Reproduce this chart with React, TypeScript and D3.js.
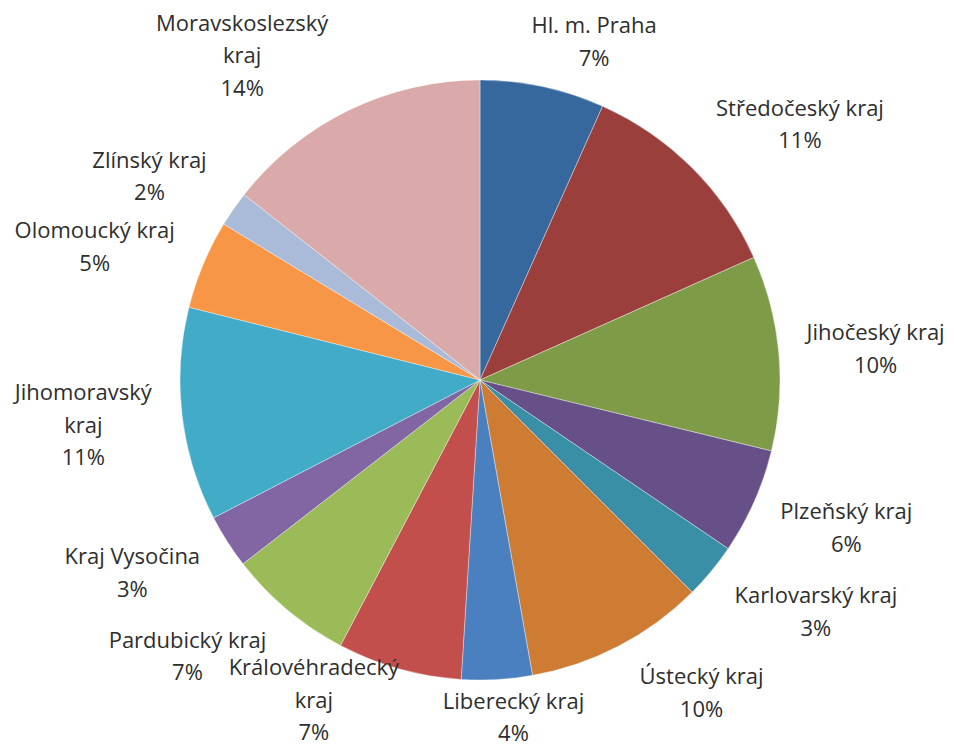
import React, { useEffect, useRef } from 'react';
import * as d3 from 'd3';

// regions in clockwise order from 12 o'clock
const regions = [
  'Hl. m. Praha',
  'Středočeský kraj',
  'Jihočeský kraj',
  'Plzeňský kraj',
  'Karlovarský kraj',
  'Ústecký kraj',
  'Liberecký kraj',
  'Královéhradecký\nkraj',
  'Pardubický kraj',
  'Kraj Vysočina',
  'Jihomoravský\nkraj',
  'Olomoucký kraj',
  'Zlínský kraj',
  'Moravskoslezský\nkraj',
];

// share of the total
const shares = [6.7, 11.6, 10.5, 5.7, 3.0, 9.7, 3.8, 6.7, 6.8, 2.9, 11.5, 4.8, 1.9, 14.4];

// percentages as printed on the labels
const shownPct = [7, 11, 10, 6, 3, 10, 4, 7, 7, 3, 11, 5, 2, 14];

const colors = [
  '#36689e', '#9b3f3c', '#7e9b48', '#674f87', '#388fa6', '#ce7c34', '#4b80c0',
  '#c24f4b', '#9bbb59', '#8166a3', '#41abc8', '#f79646', '#aabbda', '#d9aaa9',
];

// label nudges away from the outer anchor point
const labelNudge: [number, number][] = [
  [42, -1], [76, -12], [52, 0], [51, 8], [70, 12], [62, 7], [14, -7],
  [-73, -12], [-71, 12], [-57, 7], [-54, 5], [-67, 0], [-47, -7], [-87, -14],
];

const W = 954;
const H = 747;

export default function App() {
  const svgRef = useRef<SVGSVGElement>(null);

  useEffect(() => {
    if (!svgRef.current) return;
    const svg = d3.select(svgRef.current);
    svg.selectAll('*').remove();

    const cx = 480, cy = 380, r = 300;
    const g = svg.append('g').attr('transform', `translate(${cx},${cy})`);

    const data = regions.map((name, i) => ({ name, value: shares[i], i }));
    const pie = d3.pie<typeof data[0]>().sort(null).value(d => d.value);
    const arcs = pie(data);
    const arc = d3.arc<d3.PieArcDatum<typeof data[0]>>().innerRadius(0).outerRadius(r);

    g.selectAll('path.slice')
      .data(arcs)
      .enter()
      .append('path')
      .attr('class', 'slice')
      .attr('d', arc)
      .attr('fill', d => colors[d.data.i])
      .attr('stroke', '#ffffff')
      .attr('stroke-opacity', 0.6)
      .attr('stroke-width', 0.6);

    const labelR = 345;
    const lineH = 32.5;
    const fs = 22;

    const labels = g.selectAll('g.lbl')
      .data(arcs)
      .enter()
      .append('g')
      .attr('class', 'lbl')
      .attr('transform', d => {
        const a = (d.startAngle + d.endAngle) / 2;
        const [nx, ny] = labelNudge[d.data.i];
        const x = labelR * Math.sin(a) + nx;
        const y = -labelR * Math.cos(a) + ny;
        return `translate(${x},${y})`;
      });

    labels.each(function (d) {
      const lines = [...d.data.name.split('\n'), `${shownPct[d.data.i]}%`];
      const t = d3.select(this).append('text')
        .attr('text-anchor', 'middle')
        .style('font-family', '"Open Sans", Lato, sans-serif')
        .style('font-size', `${fs}px`)
        .attr('fill', '#2e2e2e');
      const top = -((lines.length - 1) * lineH) / 2;
      lines.forEach((ln, k) => {
        t.append('tspan')
          .attr('x', 0)
          .attr('y', top + k * lineH + fs * 0.35)
          .text(ln);
      });
    });
  }, []);

  return (
    <svg
      ref={svgRef}
      width={W}
      height={H}
      viewBox={`0 0 ${W} ${H}`}
      style={{ position: 'absolute', left: 0, top: 0, background: '#fff' }}
    />
  );
}
